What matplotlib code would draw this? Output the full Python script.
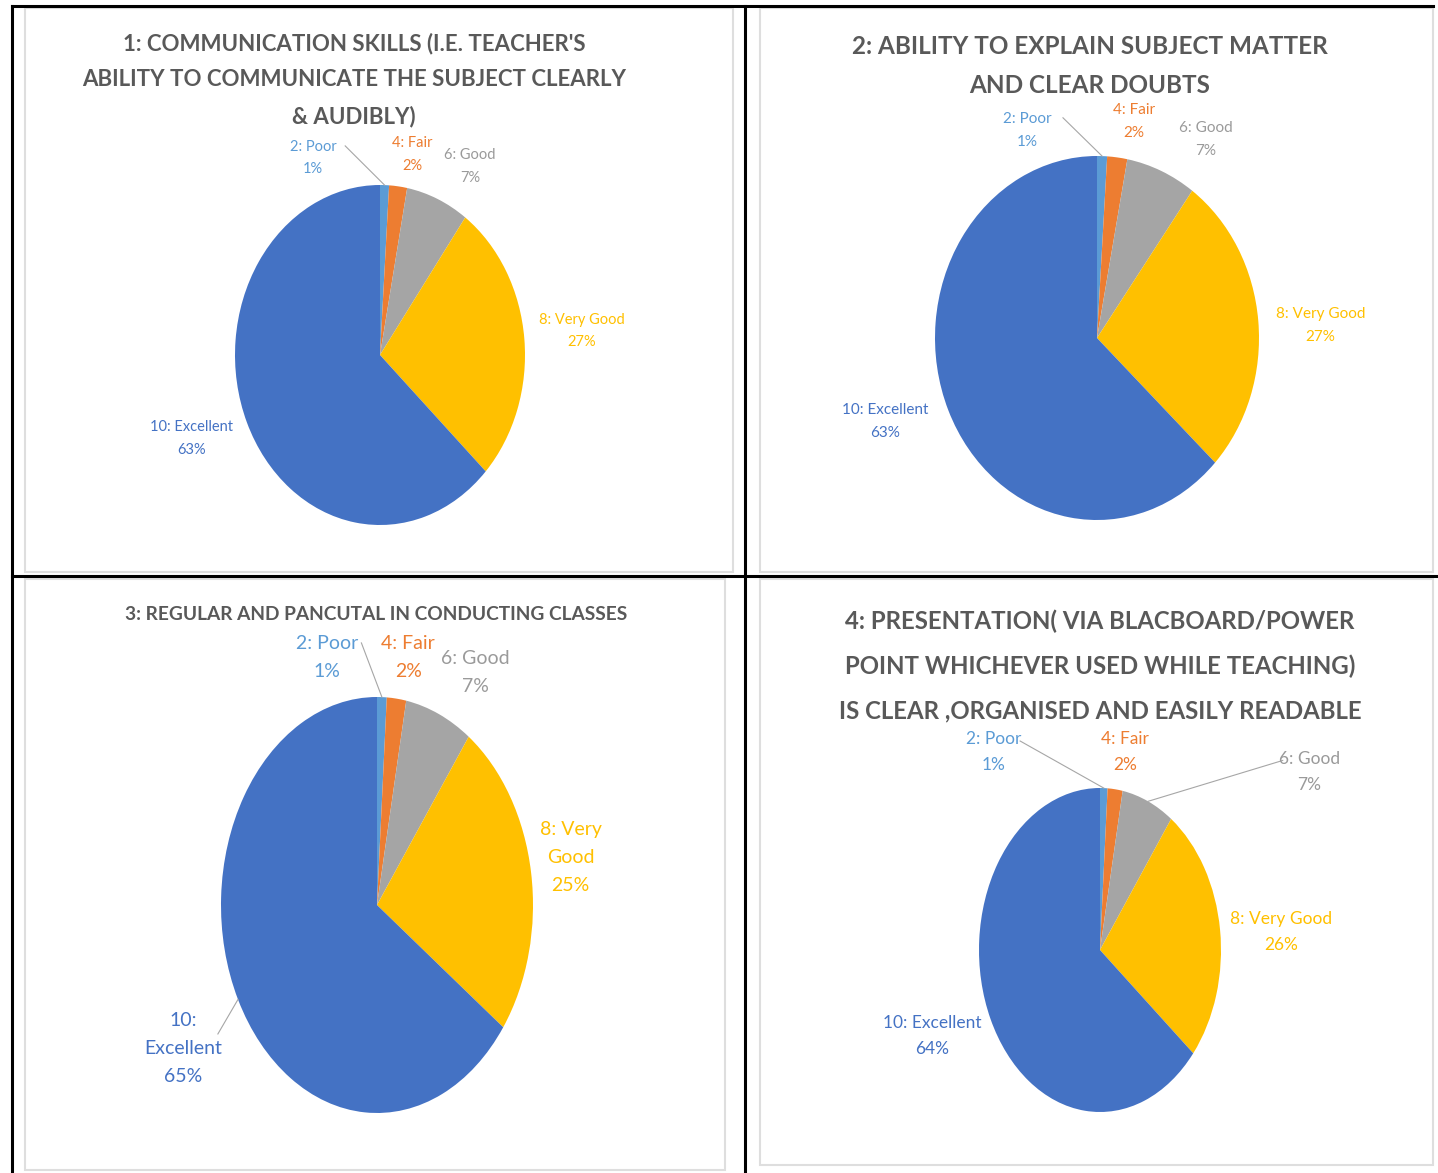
"""Teacher feedback survey: four rating pies laid out in a 2x2 table."""

import matplotlib

matplotlib.use("Agg")
import matplotlib.pyplot as plt
from matplotlib.patches import Rectangle
import numpy as np

W, H = 1438, 1173

CATEGORIES = ["2: Poor", "4: Fair", "6: Good", "8: Very Good", "10: Excellent"]
COLORS = ["#5B9BD5", "#ED7D31", "#A5A5A5", "#FFC000", "#4472C4"]
TEXT_COLORS = ["#5B9BD5", "#ED7D31", "#9A9A9A", "#FFC000", "#4472C4"]

TITLES = [
    "1: COMMUNICATION SKILLS (I.E. TEACHER'S\nABILITY TO COMMUNICATE THE SUBJECT CLEARLY\n& AUDIBLY)",
    "2: ABILITY TO EXPLAIN SUBJECT MATTER\nAND CLEAR DOUBTS",
    "3: REGULAR AND PANCUTAL IN CONDUCTING CLASSES",
    "4: PRESENTATION( VIA BLACBOARD/POWER\nPOINT WHICHEVER USED WHILE TEACHING)\nIS CLEAR ,ORGANISED AND EASILY READABLE",
]

SHARES_1 = [1, 2, 7, 27, 63]
SHARES_2 = [1, 2, 7, 27, 63]
SHARES_3 = [1, 2, 7, 25, 65]
SHARES_4 = [1, 2, 7, 26, 64]

# layout per chart: pie centre/radii (px), title centre/size, label size, label spots (pie units)
LAYOUT = [
    {
        "pie": (380, 355, 145, 170),
        "title": (354, 80, 16, 1.88),
        "label_size": 10.5,
        "spots": [(-0.46, 1.16), (0.22, 1.18), (0.62, 1.11), (1.39, 0.14), (-1.30, -0.49)],
        "names": CATEGORIES,
        "leaders": [0],
    },
    {
        "pie": (1097, 338, 162, 182),
        "title": (1090, 66, 17.5, 1.8),
        "label_size": 11,
        "spots": [(-0.43, 1.14), (0.23, 1.19), (0.67, 1.09), (1.38, 0.07), (-1.31, -0.46)],
        "names": CATEGORIES,
        "leaders": [0],
    },
    {
        "pie": (377, 905, 156, 208),
        "title": (376, 615, 13.8, 1.2),
        "label_size": 14,
        "spots": [(-0.32, 1.19), (0.20, 1.19), (0.63, 1.12), (1.24, 0.23), (-1.24, -0.69)],
        "names": ["2: Poor", "4: Fair", "6: Good", "8: Very\nGood", "10:\nExcellent"],
        "leaders": [0, 4],
    },
    {
        "pie": (1100, 950, 121, 162),
        "title": (1100, 666, 17.3, 2.1),
        "label_size": 12.5,
        "spots": [(-0.88, 1.22), (0.21, 1.22), (1.73, 1.10), (1.50, 0.11), (-1.39, -0.53)],
        "names": CATEGORIES,
        "leaders": [0, 2],
    },
]

CELL_BOXES = [(25, 8, 733, 572), (760, 8, 1433, 572), (25, 579, 725, 1170), (760, 579, 1433, 1165)]

FONT = ["Lato", "DejaVu Sans"]


def px_axes(fig, x0, y0, x1, y1):
    return fig.add_axes([x0 / W, 1 - y1 / H, (x1 - x0) / W, (y1 - y0) / H])


def draw_pie(fig, shares, title, cfg):
    cx, cy, rx, ry = cfg["pie"]
    ax = px_axes(fig, cx - rx, cy - ry, cx + rx, cy + ry)
    ax.pie(shares, colors=COLORS, startangle=90, counterclock=False,
           wedgeprops={"linewidth": 0})
    ax.set_aspect("auto")
    ax.set_xlim(-1, 1)
    ax.set_ylim(-1, 1)
    ax.axis("off")

    total = float(sum(shares))
    edges = 90 - np.cumsum([0] + list(shares)) / total * 360
    mids = np.deg2rad((edges[:-1] + edges[1:]) / 2)
    for i, (name, share) in enumerate(zip(cfg["names"], shares)):
        lx, ly = cfg["spots"][i]
        ax.text(lx, ly, f"{name}\n{share}%", ha="center", va="center",
                fontsize=cfg["label_size"], color=TEXT_COLORS[i], family=FONT,
                linespacing=1.78, clip_on=False)
        if i in cfg["leaders"]:
            ex, ey = np.cos(mids[i]), np.sin(mids[i])
            sx = lx + (0.22 if lx < ex else -0.22)
            sy = ly + 0.07
            ax.plot([sx, ex], [sy, ey], color="#A6A6A6", lw=0.8, clip_on=False)

    tx, ty, tsize, tls = cfg["title"]
    fig.text(tx / W, 1 - ty / H, title, ha="center", va="center", fontsize=tsize,
             color="#595959", family=FONT, fontweight="bold", linespacing=tls)


def main():
    fig = plt.figure(figsize=(W / 100, H / 100), dpi=100)
    fig.patch.set_facecolor("white")

    for x0, y0, x1, y1 in CELL_BOXES:
        fig.patches.append(Rectangle((x0 / W, 1 - y1 / H), (x1 - x0) / W, (y1 - y0) / H,
                                     transform=fig.transFigure, facecolor="none",
                                     edgecolor="#DEDEDE", lw=1.5, zorder=-1))

    table = fig.add_axes([0, 0, 1, 1])
    table.set_xlim(0, W)
    table.set_ylim(H, 0)
    table.axis("off")
    table.plot([12, 1433], [6, 6], color="black", lw=2.2)
    table.plot([12, 12], [6, H], color="black", lw=2.2)
    table.plot([745, 745], [6, H], color="black", lw=2.2)
    table.plot([12, W], [576, 576], color="black", lw=2.2)

    for shares, title, cfg in zip([SHARES_1, SHARES_2, SHARES_3, SHARES_4], TITLES, LAYOUT):
        draw_pie(fig, shares, title, cfg)

    fig.savefig("out.png", dpi=100)
    plt.close(fig)


if __name__ == "__main__":
    main()
